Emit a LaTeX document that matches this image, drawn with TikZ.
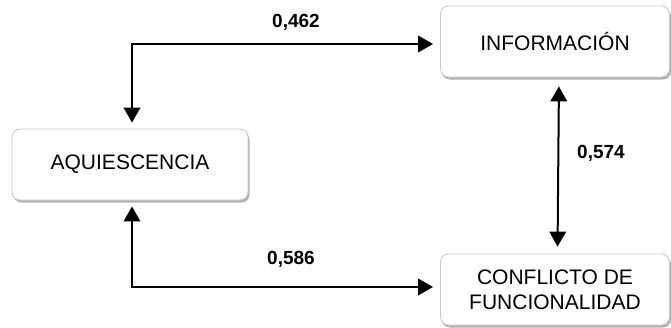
\documentclass[tikz,border=0pt]{standalone}
\usepackage{fontspec}
\setmainfont{Liberation Sans}
\usetikzlibrary{arrows.meta,shadows}

\tikzset{
  factor/.style={draw=black!22, line width=0.8pt, fill=white, rounded corners=8pt,
    minimum height=71pt, align=center,
    font=\fontsize{21}{25}\selectfont,
    drop shadow={shadow xshift=1.5pt, shadow yshift=-2.5pt, fill=black, opacity=0.3}},
  link/.style={line width=2pt, {Triangle[length=15pt,width=16.5pt]}-{Triangle[length=15pt,width=16.5pt]}},
  coef/.style={font=\fontsize{19}{22}\selectfont\bfseries}
}

\begin{document}
\begin{tikzpicture}[x=1pt,y=-1pt]
  \useasboundingbox (0,0) rectangle (671,327);

  % construct boxes
  \node[factor, minimum width=229pt] (info) at (555,41.5) {INFORMACIÓN};
  \node[factor, minimum width=236pt] (aqui) at (130,164.5) {AQUIESCENCIA};
  \node[factor, minimum width=229pt] (conf) at (555,289.5) {CONFLICTO DE\\FUNCIONALIDAD};

  % path coefficients
  \draw[link, shorten <=6pt, shorten >=7pt]
    ([xshift=2pt]aqui.north) |- ([yshift=-2.5pt]info.west);
  \draw[link, shorten <=6pt, shorten >=7pt]
    ([xshift=2pt]aqui.south) |- ([yshift=2.5pt]conf.west);
  \draw[link, shorten <=9pt, shorten >=7pt]
    ([xshift=4pt]info.south) -- ([xshift=2.5pt]conf.north);

  \node[coef] (c1) at (296,22) {0,462};
  \node[coef] (c2) at (601,153) {0,574};
  \node[coef] (c3) at (291,259) {0,586};
\end{tikzpicture}
\end{document}
